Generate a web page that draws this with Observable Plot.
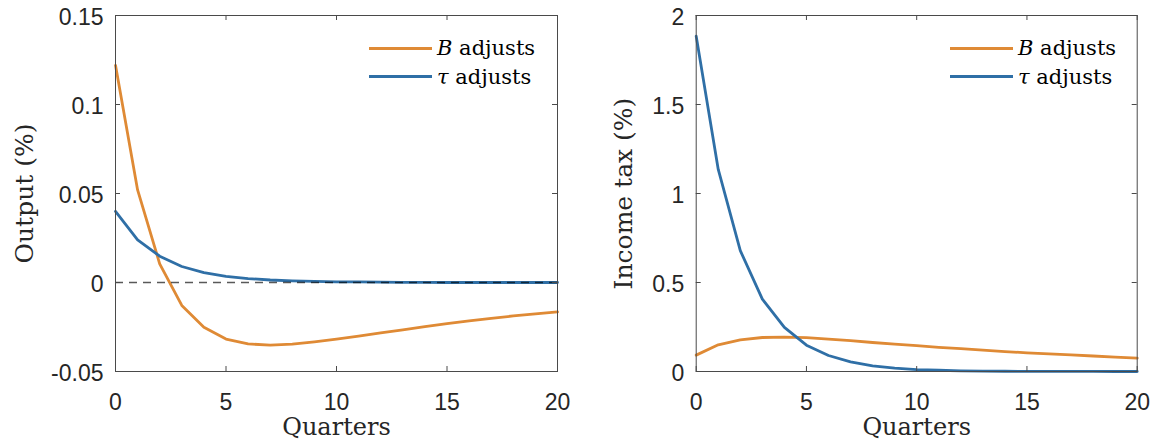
<!DOCTYPE html>
<html><head><meta charset="utf-8">
<script src="https://cdn.jsdelivr.net/npm/d3@7"></script>
<script src="https://cdn.jsdelivr.net/npm/@observablehq/plot@0.6"></script>
<style>
html,body{margin:0;padding:0;background:#fff;}
#wrap{position:relative;width:1158px;height:446px;overflow:hidden;}
.panel{position:absolute;top:0;}
.legend{position:absolute;font-family:"DejaVu Serif",serif;font-size:21px;color:#000;line-height:28px;}
.legend .row{display:flex;align-items:center;height:28.4px;white-space:nowrap;}
.legend .sw{width:63px;height:3px;margin-right:5px;}
.legend i{font-style:italic;}
</style></head><body><div id="wrap"></div>
<script>
// ---- data ----
const quarters = [0,1,2,3,4,5,6,7,8,9,10,11,12,13,14,15,16,17,18,19,20];
const outputB   = [0.122,0.052,0.0105,-0.0129,-0.0251,-0.0318,-0.0345,-0.0352,-0.0346,-0.0333,-0.0318,-0.0301,-0.0283,-0.0266,-0.0248,-0.0231,-0.0215,-0.0201,-0.0188,-0.0176,-0.0165];
const outputTau = [0.040,0.024,0.0148,0.0090,0.0056,0.0035,0.0022,0.0014,0.0009,0.0006,0.0004,0.0003,0.0002,0.0001,0.0001,0,0,0,0,0,0];
const taxB      = [0.092,0.150,0.178,0.191,0.193,0.190,0.182,0.173,0.163,0.154,0.145,0.136,0.128,0.120,0.112,0.105,0.099,0.093,0.087,0.081,0.075];
const taxTau    = [1.884,1.135,0.679,0.407,0.248,0.148,0.090,0.0545,0.032,0.019,0.011,0.007,0.004,0.0025,0.0015,0.001,0.0006,0.0004,0.0002,0.0001,0.0001];
const xTicks = [0,5,10,15,20];
const outputTicks = [-0.05,0,0.05,0.1,0.15];
const taxTicks = [0,0.5,1,1.5,2];
const seriesNames = ["B adjusts","τ adjusts"];
const colors = ["#df8a35","#2f6fa6"];

const W = 579, H = 446, MT = 15, MB = 75;
const sans = "'Liberation Sans', Arial, sans-serif";
const serif = "'DejaVu Serif', serif";
const ink = "#262626";
const frameInk = "#4a4a4a";

function panel({yDomain, yTicks, ys, yLabel, zeroLine, marginLeft, marginRight, labelDx}) {
  const fh = H - MT - MB, fw = W - marginLeft - marginRight;
  const rowsA = quarters.map((t,i)=>({t, v: ys[0][i]}));
  const rowsB = quarters.map((t,i)=>({t, v: ys[1][i]}));
  return Plot.plot({
    width: W, height: H,
    marginTop: MT, marginBottom: MB, marginLeft, marginRight,
    x: {domain: [0,20]},
    y: {domain: yDomain},
    style: {fontFamily: sans, background: "transparent", overflow: "visible"},
    marks: [
      Plot.line(rowsA, {x: "t", y: "v", stroke: colors[0], strokeWidth: 2.8}),
      Plot.line(rowsB, {x: "t", y: "v", stroke: colors[1], strokeWidth: 2.8}),
      zeroLine ? Plot.ruleY([0], {stroke: "#000", strokeOpacity: 0.65, strokeWidth: 1.3, strokeDasharray: "8,6"}) : null,
      Plot.frame({stroke: frameInk, strokeWidth: 1}),
      Plot.tickX(xTicks, {x: d=>d, insetTop: fh-5, stroke: frameInk}),
      Plot.tickX(xTicks, {x: d=>d, insetBottom: fh-5, stroke: frameInk}),
      Plot.tickY(yTicks, {y: d=>d, insetRight: fw-5, stroke: frameInk}),
      Plot.tickY(yTicks, {y: d=>d, insetLeft: fw-5, stroke: frameInk}),
      Plot.axisX({ticks: xTicks, tickSize: 0, tickPadding: 22, tickFormat: d=>String(d), fontSize: 23, fontFamily: sans, fill: ink, label: null}),
      Plot.axisY({ticks: yTicks, tickSize: 0, tickPadding: 12, tickFormat: d=>String(d), fontSize: 23, fontFamily: sans, fill: ink, dy: 2, label: null}),
      Plot.text([yLabel], {text: d=>d, frameAnchor: "left", textAnchor: "middle", lineAnchor: "middle", rotate: -90, dx: labelDx, fontSize: 25, fontFamily: serif, fill: ink}),
      Plot.text(["Quarters"], {text: d=>d, frameAnchor: "bottom", textAnchor: "middle", lineAnchor: "middle", dy: 56, fontSize: 24, fontFamily: serif, fill: ink})
    ]
  });
}

const wrap = document.getElementById("wrap");
const left = panel({yDomain: [-0.05,0.15], yTicks: outputTicks, ys: [outputB, outputTau], yLabel: "Output (%)", zeroLine: true, marginLeft: 115, marginRight: 22, labelDx: -91});
left.classList.add("panel"); left.style.left = "0px";
wrap.appendChild(left);
const right = panel({yDomain: [0,2], yTicks: taxTicks, ys: [taxB, taxTau], yLabel: "Income tax (%)", zeroLine: false, marginLeft: 116.7, marginRight: 21.3, labelDx: -72.7});
right.classList.add("panel"); right.style.left = W + "px";
wrap.appendChild(right);

function legend(x, y) {
  const d = document.createElement("div");
  d.className = "legend";
  d.style.left = x + "px"; d.style.top = y + "px";
  seriesNames.forEach((name, i) => {
    const r = document.createElement("div"); r.className = "row";
    const sw = document.createElement("div"); sw.className = "sw"; sw.style.background = colors[i];
    const tx = document.createElement("span");
    const [sym, ...rest] = name.split(" ");
    const it = document.createElement("i"); it.textContent = sym;
    tx.appendChild(it); tx.appendChild(document.createTextNode(" " + rest.join(" ")));
    r.appendChild(sw); r.appendChild(tx); d.appendChild(r);
  });
  wrap.appendChild(d);
}
legend(369, 34);
legend(950, 34);
</script></body></html>
